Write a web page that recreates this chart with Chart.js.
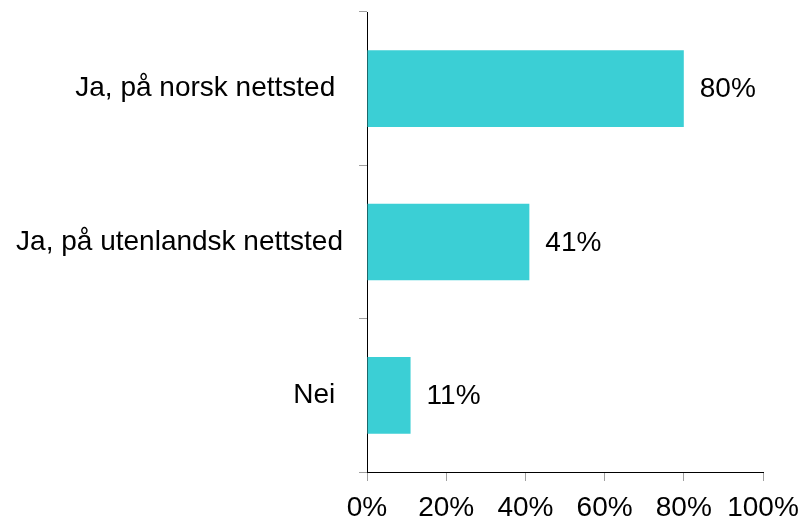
<!DOCTYPE html>
<html>
<head>
<meta charset="utf-8">
<script src="https://cdn.jsdelivr.net/npm/chart.js@4"></script>
<style>
  html, body { margin: 0; padding: 0; background: #fff; }
  #wrap { width: 805px; height: 522px; }
</style>
</head>
<body>
<div id="wrap"><canvas id="chart"></canvas></div>
<script>
// data (trailing spaces are in the source labels)
const categories = ['Ja, på norsk nettsted ', 'Ja, på utenlandsk nettsted', 'Nei '];
const values = [80, 41, 11];
const tickValues = [0, 20, 40, 60, 80, 100];

const FONT = '"Liberation Sans", Arial, sans-serif';

// value labels to the right of each bar
const barLabels = {
  id: 'barLabels',
  afterDatasetsDraw(chart) {
    const ctx = chart.ctx;
    const meta = chart.getDatasetMeta(0);
    ctx.save();
    ctx.font = '28px ' + FONT;
    ctx.fillStyle = '#000';
    ctx.textAlign = 'left';
    ctx.textBaseline = 'middle';
    meta.data.forEach((bar, i) => {
      ctx.fillText(values[i] + '%', bar.x + 16, bar.y + 1);
    });
    ctx.restore();
  }
};

new Chart(document.getElementById('chart'), {
  type: 'bar',
  data: {
    labels: categories,
    datasets: [{
      data: values,
      backgroundColor: '#3bcfd5',
      barPercentage: 0.5,
      categoryPercentage: 1
    }]
  },
  options: {
    indexAxis: 'y',
    responsive: true,
    maintainAspectRatio: false,
    animation: false,
    layout: { padding: { top: 12, right: 42, left: 0, bottom: 0 } },
    plugins: { legend: { display: false }, tooltip: { enabled: false } },
    scales: {
      x: {
        min: 0,
        max: 100,
        afterBuildTicks: (s) => { s.ticks = tickValues.map(v => ({ value: v })); },
        afterFit: (s) => {
          s.height = 50;
          s.paddingLeft = 0;
          s.paddingRight = 0;
        },
        border: { color: '#000', width: 1 },
        grid: { drawOnChartArea: false, tickLength: 9, color: '#a0a0a0' },
        ticks: {
          color: '#000',
          font: { size: 28, family: FONT },
          padding: 10,
          maxRotation: 0,
          callback: (v) => v + '%'
        }
      },
      y: {
        afterFit: (s) => {
          s.width = 367;
          s.paddingTop = 0;
          s.paddingBottom = 0;
        },
        border: { color: '#000', width: 1 },
        grid: { drawOnChartArea: false, tickLength: 8, color: '#a0a0a0', offset: true },
        ticks: {
          color: '#000',
          font: { size: 28, family: FONT },
          padding: 16
        }
      }
    }
  },
  plugins: [barLabels]
});
</script>
</body>
</html>
